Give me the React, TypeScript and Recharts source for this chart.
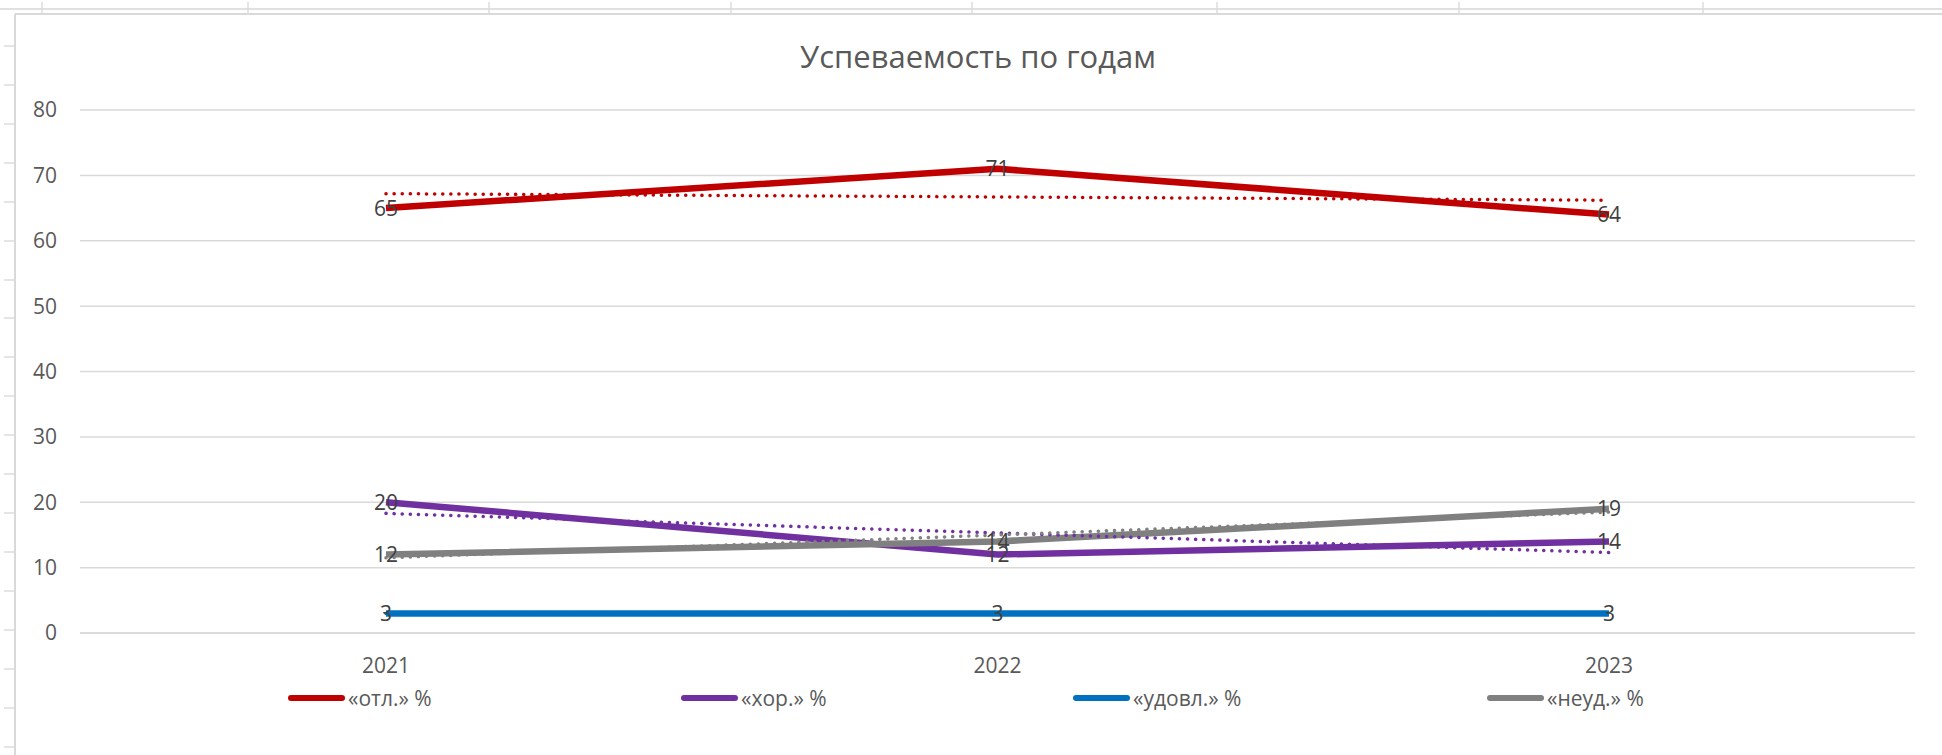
import { LineChart, Line, XAxis, YAxis, CartesianGrid, LabelList, Legend } from "recharts"

const years = ["2021", "2022", "2023"]
const otl = [65, 71, 64]
const hor = [20, 12, 14]
const udovl = [3, 3, 3]
const neud = [12, 14, 19]
// dotted linear trend lines
const otlTrend = [67.2, 66.7, 66.2]
const horTrend = [18.3, 15.3, 12.3]
const udovlTrend = [3, 3, 3]
const neudTrend = [11.5, 15, 18.5]
const yTicks = [0, 10, 20, 30, 40, 50, 60, 70, 80]

const series = [
  { key: "otl", name: "«отл.» %", color: "#C00000", values: otl, trend: otlTrend },
  { key: "hor", name: "«хор.» %", color: "#7030A0", values: hor, trend: horTrend },
  { key: "udovl", name: "«удовл.» %", color: "#0070C0", values: udovl, trend: udovlTrend },
  { key: "neud", name: "«неуд.» %", color: "#808080", values: neud, trend: neudTrend },
]

const data = years.map((year, i) => {
  const row: Record<string, string | number> = { year }
  series.forEach((s) => {
    row[s.key] = s.values[i]
    row[s.key + "Trend"] = s.trend[i]
  })
  return row
})

const font = "'Open Sans', 'Noto Sans', sans-serif"
const legendLeft = [288, 681, 1073, 1487]
const colTicks = [42, 248, 489, 731, 972, 1217, 1459, 1703]
const rowTicks = [46, 85, 124, 163, 202, 241, 280, 318, 357, 396, 435, 474, 513, 552, 591, 630, 669, 708, 747]

function SheetBackground() {
  return (
    <svg width={1942} height={755} style={{ position: "absolute", left: 0, top: 0 }}>
      <line x1={0} y1={9} x2={1942} y2={9} stroke="#e0e0e0" strokeWidth={2} />
      {colTicks.map((x) => (
        <line key={x} x1={x} y1={2} x2={x} y2={14} stroke="#dcdcdc" strokeWidth={1.5} />
      ))}
      {rowTicks.map((y) => (
        <line key={y} x1={4} y1={y} x2={15} y2={y} stroke="#dcdcdc" strokeWidth={1.5} />
      ))}
      <line x1={15} y1={14} x2={1942} y2={14} stroke="#d9d9d9" strokeWidth={2} />
      <line x1={15} y1={14} x2={15} y2={755} stroke="#d9d9d9" strokeWidth={2} />
    </svg>
  )
}

function renderLegend() {
  return (
    <div style={{ position: "relative", width: 1942, height: 24, fontFamily: font }}>
      {series.map((s, i) => (
        <div
          key={s.key}
          style={{
            position: "absolute",
            left: legendLeft[i],
            top: 0,
            height: 24,
            display: "flex",
            alignItems: "center",
            whiteSpace: "nowrap",
          }}
        >
          <span
            style={{
              display: "inline-block",
              width: 57,
              height: 6,
              borderRadius: 3,
              background: s.color,
              marginRight: 3,
            }}
          />
          <span style={{ fontSize: 21, color: "#595959" }}>{s.name}</span>
        </div>
      ))}
    </div>
  )
}

export default function App() {
  return (
    <div style={{ position: "absolute", left: 0, top: 0, width: 1942, height: 755, background: "#fff" }}>
      <SheetBackground />
      <div
        style={{
          position: "absolute",
          left: 0,
          width: 1956,
          top: 36,
          textAlign: "center",
          fontFamily: font,
          fontSize: 31,
          color: "#595959",
          lineHeight: "40px",
        }}
      >
        Успеваемость по годам
      </div>
      <div style={{ position: "absolute", left: 0, top: 0 }}>
        <LineChart width={1942} height={755} data={data} margin={{ top: 110, right: 27, left: 0, bottom: 82 }}>
          <CartesianGrid vertical={false} stroke="#d9d9d9" strokeWidth={1.5} />
          <XAxis
            dataKey="year"
            tickLine={false}
            axisLine={{ stroke: "#d9d9d9", strokeWidth: 1.5 }}
            tickSize={0}
            tickMargin={25}
            height={40}
            padding={{ left: 306, right: 306 }}
            tick={{ fill: "#595959", fontSize: 21, fontFamily: font }}
          />
          <YAxis
            domain={[0, 80]}
            ticks={yTicks}
            width={80}
            tickLine={false}
            axisLine={false}
            tickSize={0}
            tickMargin={23}
            tick={{ fill: "#595959", fontSize: 21, fontFamily: font }}
          />
          <Legend
            layout="horizontal"
            verticalAlign="middle"
            content={renderLegend}
            wrapperStyle={{ top: 686, left: 0, width: 1942 }}
          />
          {series.map((s) => (
            <Line
              key={s.key}
              dataKey={s.key}
              name={s.name}
              type="linear"
              stroke={s.color}
              strokeWidth={6.5}
              strokeLinejoin="round"
              dot={false}
              activeDot={false}
              isAnimationActive={false}
            />
          ))}
          {series.map((s) => (
            <Line
              key={s.key + "Trend"}
              dataKey={s.key + "Trend"}
              type="linear"
              stroke={s.color}
              strokeWidth={3.5}
              strokeDasharray="0.1 8"
              strokeLinecap="round"
              dot={false}
              activeDot={false}
              legendType="none"
              isAnimationActive={false}
            />
          ))}
          {series.map((s) => (
            <Line
              key={s.key + "Label"}
              dataKey={s.key}
              type="linear"
              stroke="none"
              dot={false}
              activeDot={false}
              legendType="none"
              isAnimationActive={false}
            >
              <LabelList dataKey={s.key} position="center" fill="#404040" fontSize={21} fontFamily={font} />
            </Line>
          ))}
        </LineChart>
      </div>
    </div>
  )
}
